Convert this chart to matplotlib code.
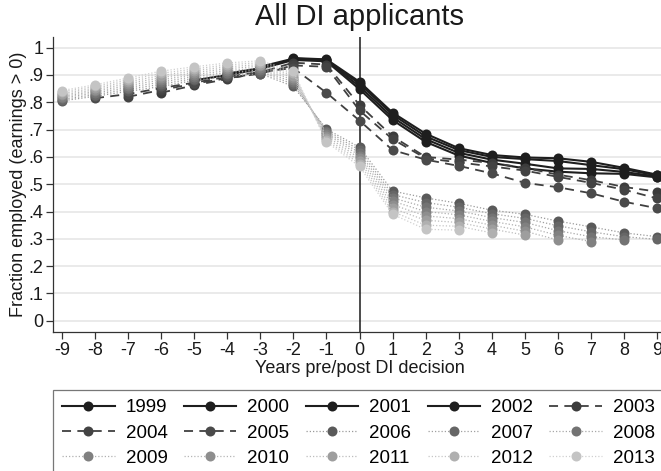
import numpy as np
import matplotlib
matplotlib.use("Agg")
import matplotlib.pyplot as plt

plt.rcParams['font.family'] = ['Liberation Sans', 'DejaVu Sans']
plt.rcParams['axes.unicode_minus'] = False

# Decision-year cohorts
cohorts = [1999, 2000, 2001, 2002, 2003, 2004, 2005,
           2006, 2007, 2008, 2009, 2010, 2011, 2012, 2013]

# First year (relative to the DI decision) observed for each cohort
first_offset = [-2, -3, -4, -5, -6, -7, -8, -9, -9, -9, -9, -9, -9, -9, -9]

# Fraction employed, from first_offset onward in steps of one year
emp_1999 = [0.962, 0.957, 0.875, 0.762, 0.685, 0.632, 0.607, 0.598, 0.595, 0.582, 0.560, 0.535]
emp_2000 = [0.930, 0.960, 0.955, 0.868, 0.755, 0.675, 0.625, 0.600, 0.592, 0.585, 0.570, 0.555, 0.532]
emp_2001 = [0.905, 0.925, 0.958, 0.953, 0.858, 0.745, 0.665, 0.615, 0.590, 0.575, 0.558, 0.556, 0.545, 0.528]
emp_2002 = [0.880, 0.900, 0.922, 0.955, 0.950, 0.848, 0.735, 0.655, 0.605, 0.578, 0.558, 0.546, 0.540, 0.538, 0.525]
emp_2003 = [0.835, 0.862, 0.885, 0.910, 0.945, 0.938, 0.790, 0.675, 0.600, 0.590, 0.578, 0.560,
            0.535, 0.515, 0.490, 0.473]
emp_2004 = [0.820, 0.845, 0.868, 0.888, 0.905, 0.935, 0.930, 0.770, 0.665, 0.595, 0.580, 0.565,
            0.550, 0.527, 0.505, 0.480, 0.448]
emp_2005 = [0.815, 0.830, 0.852, 0.872, 0.893, 0.912, 0.925, 0.835, 0.733, 0.625, 0.590, 0.567,
            0.540, 0.505, 0.489, 0.467, 0.436, 0.412]
emp_2006 = [0.805, 0.822, 0.840, 0.858, 0.880, 0.895, 0.905, 0.858, 0.702, 0.635, 0.475, 0.450,
            0.430, 0.405, 0.390, 0.365, 0.344, 0.322, 0.308]
emp_2007 = [0.810, 0.828, 0.847, 0.866, 0.887, 0.902, 0.912, 0.866, 0.696, 0.625, 0.462, 0.433,
            0.416, 0.392, 0.375, 0.348, 0.326, 0.308, 0.298]
emp_2008 = [0.816, 0.834, 0.854, 0.874, 0.894, 0.909, 0.918, 0.874, 0.690, 0.615, 0.450, 0.416,
            0.402, 0.378, 0.360, 0.330, 0.308, 0.296]
emp_2009 = [0.821, 0.840, 0.861, 0.882, 0.901, 0.916, 0.925, 0.882, 0.684, 0.605, 0.438, 0.400,
            0.388, 0.364, 0.344, 0.313, 0.290]
emp_2010 = [0.826, 0.846, 0.868, 0.890, 0.908, 0.923, 0.932, 0.890, 0.676, 0.595, 0.425, 0.384,
            0.374, 0.350, 0.328, 0.296]
emp_2011 = [0.832, 0.852, 0.875, 0.898, 0.915, 0.930, 0.938, 0.898, 0.668, 0.585, 0.412, 0.368,
            0.360, 0.336, 0.314]
emp_2012 = [0.838, 0.858, 0.882, 0.906, 0.922, 0.937, 0.945, 0.906, 0.661, 0.575, 0.400, 0.350,
            0.346, 0.322]
emp_2013 = [0.843, 0.864, 0.889, 0.914, 0.930, 0.944, 0.952, 0.914, 0.655, 0.565, 0.390, 0.335,
            0.332]

series = [emp_1999, emp_2000, emp_2001, emp_2002, emp_2003, emp_2004, emp_2005,
          emp_2006, emp_2007, emp_2008, emp_2009, emp_2010, emp_2011, emp_2012, emp_2013]

x_ticks = list(range(-9, 10))
y_ticks = [0, 0.1, 0.2, 0.3, 0.4, 0.5, 0.6, 0.7, 0.8, 0.9, 1.0]
y_tick_labels = ["0", ".1", ".2", ".3", ".4", ".5", ".6", ".7", ".8", ".9", "1"]

marker_colors = ['#1e1e1e', '#1e1e1e', '#1e1e1e', '#1e1e1e',
                 '#3c3c3c', '#434343', '#4a4a4a',
                 '#5a5a5a', '#666666', '#737373', '#808080',
                 '#8e8e8e', '#9e9e9e', '#b0b0b0', '#c4c4c4']
dot_line_colors = ['#9a9a9a', '#a0a0a0', '#a8a8a8', '#b0b0b0',
                   '#b6b6b6', '#bdbdbd', '#c6c6c6', '#d0d0d0']
line_kinds = ['solid'] * 4 + ['dash'] * 3 + ['dot'] * 8

fig = plt.figure(figsize=(6.61, 4.71), dpi=100)
ax = fig.add_axes([53 / 661, 1 - 332 / 471, 613 / 661, (332 - 37) / 471])

handles = []
dot_i = 0
for year, start, vals, col, kind in zip(cohorts, first_offset, series, marker_colors, line_kinds):
    xs = np.arange(start, start + len(vals))
    if kind == 'solid':
        ls, lw, lc = '-', 1.5, '#1e1e1e'
    elif kind == 'dash':
        ls, lw, lc = (0, (5, 3.5)), 1.3, '#404040'
    else:
        ls, lw, lc = (0, (1, 1.6)), 0.9, dot_line_colors[dot_i]
        dot_i += 1
    h, = ax.plot(xs, vals, linestyle=ls, color=lc, linewidth=lw,
                 marker='o', markersize=7.2, markerfacecolor=col,
                 markeredgecolor=col, markeredgewidth=0, label=str(year))
    handles.append(h)

ax.axvline(0, color='#1a1a1a', linewidth=1.1, zorder=1)

ax.set_xlim(-9.27, 9.27)
ax.set_ylim(-0.041, 1.039)
ax.set_xticks(x_ticks)
ax.set_yticks(y_ticks)
ax.set_yticklabels(y_tick_labels)
ax.yaxis.grid(True, color='#e8e8e8', linewidth=1.3)
ax.set_axisbelow(True)
for s in ['top', 'right']:
    ax.spines[s].set_visible(False)
for s in ['left', 'bottom']:
    ax.spines[s].set_color('#333333')
    ax.spines[s].set_linewidth(0.9)
ax.tick_params(axis='both', direction='out', length=5, width=0.9, color='#333333',
               labelsize=13, labelcolor='#1a1a1a', pad=2)

ax.set_xlabel("Years pre/post DI decision", fontsize=13, color='#1a1a1a', labelpad=1)
ax.set_ylabel("Fraction employed (earnings > 0)", fontsize=13, color='#1a1a1a', labelpad=1)
fig.text(359.5 / 661, 1 - 17 / 471, "All DI applicants", ha='center', va='center',
         fontsize=21, color='#1a1a1a')

# legend filled row by row: 5 columns, 3 rows
ncol, nrow = 5, 3
order = [r * ncol + c for c in range(ncol) for r in range(nrow)]
leg = fig.legend([handles[i] for i in order], [str(cohorts[i]) for i in order],
                 loc='upper left', bbox_to_anchor=(53 / 661, 1 - 390 / 471),
                 ncol=ncol, fontsize=13.5, frameon=True, fancybox=False,
                 handlelength=2.8, handletextpad=0.6, columnspacing=0.86,
                 labelspacing=0.44, borderpad=0.48, borderaxespad=0)
leg.get_frame().set_edgecolor('#555555')
leg.get_frame().set_linewidth(0.9)

fig.savefig("out.png", dpi=100)
